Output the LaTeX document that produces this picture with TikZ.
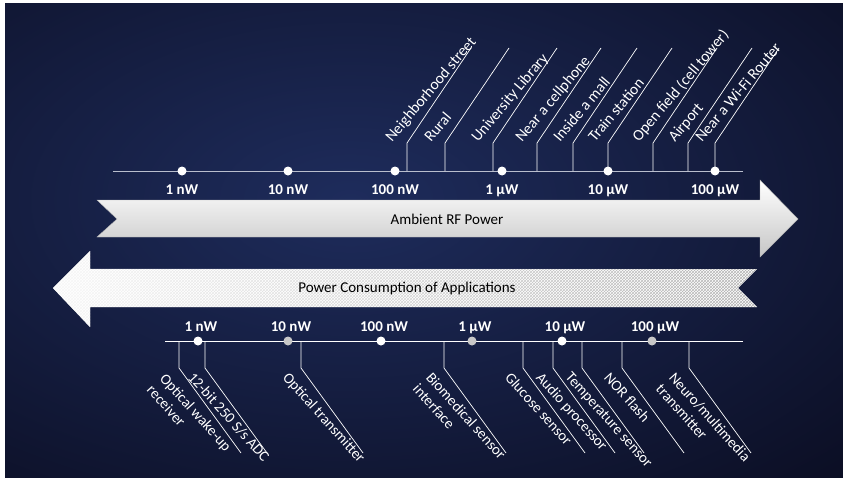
\documentclass[tikz,border=0pt]{standalone}
\usepackage{fontspec}
\setmainfont{Carlito}
\usepackage{tikz}
\usetikzlibrary{positioning,patterns,fadings}
\definecolor{bgdark}{RGB}{6,6,20}
\definecolor{bgnavy}{RGB}{30,44,92}
\definecolor{dotgray}{RGB}{200,200,200}
\definecolor{axisgray}{RGB}{185,190,205}
\tikzfading[name=fadeleft, left color=transparent!10, middle color=transparent!100, right color=transparent!100]

\begin{document}
\begin{tikzpicture}[x=1pt,y=-1pt,
  every node/.append style={font=\fontsize{15}{18}\selectfont, text=white},
  axisdot/.style={circle,fill=white,inner sep=0pt,minimum size=9pt},
  graydot/.style={axisdot,fill=dotgray},
  powerval/.style={font=\fontsize{15}{18}\selectfont\bfseries,inner sep=0pt,text height=10pt,text depth=0pt},
  leader/.style={draw=white,line width=0.7pt},
  uplabel/.style={rotate=50,anchor=base west,inner sep=0pt,font=\fontsize{15.5}{18}\selectfont},
  downlabel/.style={rotate=-48,anchor=north west,inner sep=0pt,align=left,font=\fontsize{15}{17.5}\selectfont},
  arrowtext/.style={text=black}]
\useasboundingbox (0,0) rectangle (843,479);
\fill[white] (0,0) rectangle (843,479);
\fill[bgdark] (5,3) rectangle (843,477);
\begin{scope}
  \clip (5,3) rectangle (843,477);
  \shade[inner color=bgnavy, outer color=bgdark] (350,200) ellipse [x radius=900, y radius=500];
\end{scope}

\coordinate (ta0) at (113,171);
\coordinate (ta1) at (743,171);
\draw[axisgray,line width=0.8pt] (ta0) -- (ta1);

\coordinate (nb) at (407,171); \coordinate (nbk) at (407,143); \coordinate (nbe) at (471,48);
\coordinate (ru) at (445,171); \coordinate (ruk) at (445,143); \coordinate (rue) at (509,48);
\coordinate (ul) at (493,171); \coordinate (ulk) at (493,143); \coordinate (ule) at (557,48);
\coordinate (nc) at (537,171); \coordinate (nck) at (537,143); \coordinate (nce) at (601,48);
\coordinate (im) at (573,171); \coordinate (imk) at (573,143); \coordinate (ime) at (637,48);
\coordinate (ts) at (608,171); \coordinate (tsk) at (608,143); \coordinate (tse) at (672,48);
\coordinate (of) at (653,171); \coordinate (ofk) at (653,143); \coordinate (ofe) at (717,48);
\coordinate (ap) at (688,171); \coordinate (apk) at (688,143); \coordinate (ape) at (752,48);
\coordinate (wr) at (715,171); \coordinate (wrk) at (715,143); \coordinate (wre) at (779,48);
\draw[leader] (nb) -- (nbk) -- (nbe);
\draw[leader] (ru) -- (ruk) -- (rue);
\draw[leader] (ul) -- (ulk) -- (ule);
\draw[leader] (nc) -- (nck) -- (nce);
\draw[leader] (im) -- (imk) -- (ime);
\draw[leader] (ts) -- (tsk) -- (tse);
\draw[leader] (of) -- (ofk) -- (ofe);
\draw[leader] (ap) -- (apk) -- (ape);
\draw[leader] (wr) -- (wrk) -- (wre);
\node[uplabel] (nblab) at ([xshift=-15pt]nbk) {Neighborhood street};
\node[uplabel] (rulab) at ([xshift=-14pt]ruk) {Rural};
\node[uplabel] (ullab) at ([xshift=-15pt]ulk) {University Library};
\node[uplabel] (nclab) at ([xshift=-15pt]nck) {Near a cellphone};
\node[uplabel] (imlab) at ([xshift=-13pt]imk) {Inside a mall};
\node[uplabel] (tslab) at ([xshift=-13pt]tsk) {Train station};
\node[uplabel] (oflab) at ([xshift=-14pt]ofk) {Open field (cell tower)};
\node[uplabel] (aplab) at ([xshift=-13pt]apk) {Airport};
\node[uplabel] (wrlab) at ([xshift=-13pt]wrk) {Near a Wi-Fi Router};

\node[axisdot] (t1n) at (182,171) {};
\node[axisdot] (t10n) at (288,171) {};
\node[axisdot] (t100n) at (395,171) {};
\node[axisdot] (t1u) at (502,171) {};
\node[axisdot] (t10u) at (608,171) {};
\node[axisdot] (t100u) at (715,171) {};
\node[powerval,below=8.5pt of t1n] {1 nW};
\node[powerval,below=8.5pt of t10n] {10 nW};
\node[powerval,below=8.5pt of t100n] {100 nW};
\node[powerval,below=8.5pt of t1u] {1 µW};
\node[powerval,below=8.5pt of t10u] {10 µW};
\node[powerval,below=8.5pt of t100u] {100 µW};

\shade[top color=white, bottom color=gray!45, draw=gray!60, line width=0.4pt]
  (97,200) -- (760,200) -- (760,180) -- (798,219) -- (760,257) -- (760,237) -- (97,237) -- (117,219) -- cycle;
\node[arrowtext] (rf) at (447,219) {Ambient RF Power};

\path[fill=white, postaction={pattern=crosshatch, pattern color=gray!60},
  postaction={fill=white, path fading=fadeleft}]
  (53,288) -- (90,251) -- (90,269) -- (757,269) -- (738,288) -- (757,307) -- (90,307) -- (90,327) -- cycle;
\node[arrowtext] (pc) at (407,288) {Power Consumption of Applications};

\coordinate (ba0) at (165,341);
\coordinate (ba1) at (743,341);
\draw[white,line width=0.8pt] (ba0) -- (ba1);

\coordinate (ow) at (179,341); \coordinate (owk) at (179,368); \coordinate (owe) at (241,453);
\coordinate (ad) at (205,341); \coordinate (adk) at (205,368); \coordinate (ade) at (267,453);
\coordinate (ot) at (301,341); \coordinate (otk) at (301,368); \coordinate (ote) at (363,453);
\coordinate (bs) at (444,341); \coordinate (bsk) at (444,368); \coordinate (bse) at (506,453);
\coordinate (gs) at (523,341); \coordinate (gsk) at (523,368); \coordinate (gse) at (585,453);
\coordinate (aud) at (553,341); \coordinate (audk) at (553,368); \coordinate (aude) at (615,453);
\coordinate (tm) at (582,341); \coordinate (tmk) at (582,368); \coordinate (tme) at (644,453);
\coordinate (nf) at (622,341); \coordinate (nfk) at (622,368); \coordinate (nfe) at (684,453);
\coordinate (nm) at (689,341); \coordinate (nmk) at (689,368); \coordinate (nme) at (751,453);
\draw[leader] (ow) -- (owk) -- (owe);
\draw[leader] (ad) -- (adk) -- (ade);
\draw[leader] (ot) -- (otk) -- (ote);
\draw[leader] (bs) -- (bsk) -- (bse);
\draw[leader] (gs) -- (gsk) -- (gse);
\draw[leader] (aud) -- (audk) -- (aude);
\draw[leader] (tm) -- (tmk) -- (tme);
\draw[leader] (nf) -- (nfk) -- (nfe);
\draw[leader] (nm) -- (nmk) -- (nme);
\node[downlabel] (owlab) at ([xshift=-12pt,yshift=-4pt]owk) {Optical wake-up\\receiver};
\node[downlabel] (adlab) at ([xshift=-10pt,yshift=-3pt]adk) {12-bit 250 S/s ADC};
\node[downlabel] (otlab) at ([xshift=-11pt,yshift=-3pt]otk) {Optical transmitter};
\node[downlabel] (bslab) at ([xshift=-11pt,yshift=-3pt]bsk) {Biomedical sensor\\interface};
\node[downlabel] (gslab) at ([xshift=-11pt,yshift=-3pt]gsk) {Glucose sensor};
\node[downlabel] (audlab) at ([xshift=-10pt,yshift=-3pt]audk) {Audio processor};
\node[downlabel] (tmlab) at ([xshift=-10pt,yshift=-3pt]tmk) {Temperature sensor};
\node[downlabel] (nflab) at ([xshift=-11pt,yshift=-3pt]nfk) {NOR flash};
\node[downlabel] (nmlab) at ([xshift=-13pt,yshift=-3pt]nmk) {Neuro/multimedia\\transmitter};

\node[axisdot] (b1n) at (198,341) {};
\node[graydot] (b10n) at (288,341) {};
\node[axisdot] (b100n) at (381,341) {};
\node[graydot] (b1u) at (472,341) {};
\node[axisdot] (b10u) at (562,341) {};
\node[graydot] (b100u) at (652,341) {};
\node[powerval,above=4.5pt of b1n,xshift=3pt] {1 nW};
\node[powerval,above=4.5pt of b10n,xshift=3pt] {10 nW};
\node[powerval,above=4.5pt of b100n,xshift=3pt] {100 nW};
\node[powerval,above=4.5pt of b1u,xshift=3pt] {1 µW};
\node[powerval,above=4.5pt of b10u,xshift=3pt] {10 µW};
\node[powerval,above=4.5pt of b100u,xshift=3pt] {100 µW};
\end{tikzpicture}
\end{document}
